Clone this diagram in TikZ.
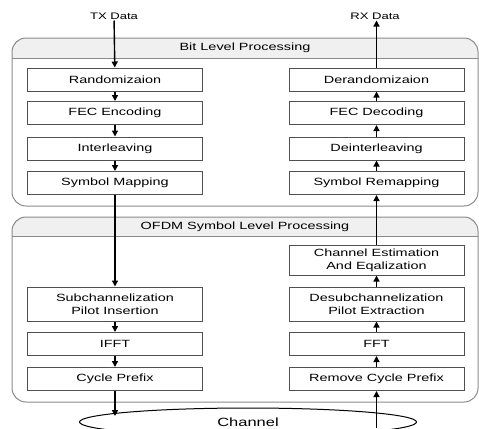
\documentclass[tikz,border=0pt]{standalone}
\usepackage{fontspec}
\setmainfont{Liberation Sans}[FakeStretch=1.38]
\usetikzlibrary{arrows.meta,shapes.geometric}
\definecolor{boxgray}{HTML}{505050}
\definecolor{contgray}{HTML}{8A8A8A}
\definecolor{hdrfill}{HTML}{F0F0F0}
\begin{document}
\begin{tikzpicture}[x=1bp,y=-1bp,
 box/.style={draw=boxgray,line width=1bp,minimum width=175bp,minimum height=23bp,inner sep=0pt,font=\fontsize{10.5}{12.7}\selectfont,align=center,fill=white},
 arr/.style={line width=1.4bp,-{Triangle[length=6bp,width=6bp]}},
 cont/.style={draw=contgray,line width=1bp,rounded corners=14bp},
 hdr/.style={font=\fontsize{10.5}{12}\selectfont,inner sep=1bp},
 io/.style={font=\fontsize{9.5}{11}\selectfont,inner sep=1bp}]
\useasboundingbox (0,0) rectangle (479,428);
% containers
\begin{scope}
\clip (0,0) rectangle (479,58);
\fill[hdrfill,rounded corners=14bp] (12,38) rectangle (478,206);
\end{scope}
\draw[cont] (12,38) rectangle (478,206);
\draw[draw=contgray,line width=1bp] (12,58) -- (478,58);
\begin{scope}
\clip (0,217) rectangle (479,236);
\fill[hdrfill,rounded corners=14bp] (12,217) rectangle (478,402);
\end{scope}
\draw[cont] (12,217) rectangle (478,402);
\draw[draw=contgray,line width=1bp] (12,236) -- (478,236);
\node[hdr] (bitl) at (245,47.5) {Bit Level Processing};
\node[hdr] (ofdml) at (245,226.5) {OFDM Symbol Level Processing};
% left column
\node[box] (rand) at (115,79.5) {Randomizaion};
\node[box] (fec) at (115,113) {FEC Encoding};
\node[box] (inter) at (115,148.5) {Interleaving};
\node[box] (smap) at (115,183) {Symbol Mapping};
\node[box,minimum height=34bp] (sub) at (115,304) {Subchannelization\\Pilot Insertion};
\node[box] (ifft) at (115,344) {IFFT};
\node[box] (cp) at (115,379) {Cycle Prefix};
% right column
\node[box] (derand) at (376.5,79.5) {Derandomizaion};
\node[box] (fecd) at (376.5,113) {FEC Decoding};
\node[box] (deint) at (376.5,148.5) {Deinterleaving};
\node[box] (srem) at (376.5,183) {Symbol Remapping};
\node[box,minimum height=30bp] (chest) at (376.5,260) {Channel Estimation\\And Eqalization};
\node[box,minimum height=34bp] (desub) at (376.5,304) {Desubchannelization\\Pilot Extraction};
\node[box] (fft) at (376.5,344) {FFT};
\node[box] (rcp) at (376.5,379) {Remove Cycle Prefix};
% channel
\node[ellipse,draw=black,line width=1bp,minimum width=337bp,minimum height=28bp,inner sep=0pt,font=\fontsize{12}{14}\selectfont] (chan) at (248,422) {Channel};
\coordinate (chin) at (115,416);
\coordinate (chout) at (376.5,428);
% io
\node[io] (tx) at (114,16) {TX Data};
\node[io] (rx) at (375,16) {RX Data};
% arrows
\draw[arr] (tx) -- (rand);
\draw[arr] (rand) -- (fec);
\draw[arr] (fec) -- (inter);
\draw[arr] (inter) -- (smap);
\draw[arr] (smap) -- (sub);
\draw[arr] (sub) -- (ifft);
\draw[arr] (ifft) -- (cp);
\draw[arr] (cp) -- (chin);
\draw[arr] (chout) -- (rcp);
\draw[arr] (rcp) -- (fft);
\draw[arr] (fft) -- (desub);
\draw[arr] (desub) -- (chest);
\draw[arr] (chest) -- (srem);
\draw[arr] (srem) -- (deint);
\draw[arr] (deint) -- (fecd);
\draw[arr] (fecd) -- (derand);
\draw[arr] (derand.north) -- (rx.south -| derand.north);
\end{tikzpicture}
\end{document}
